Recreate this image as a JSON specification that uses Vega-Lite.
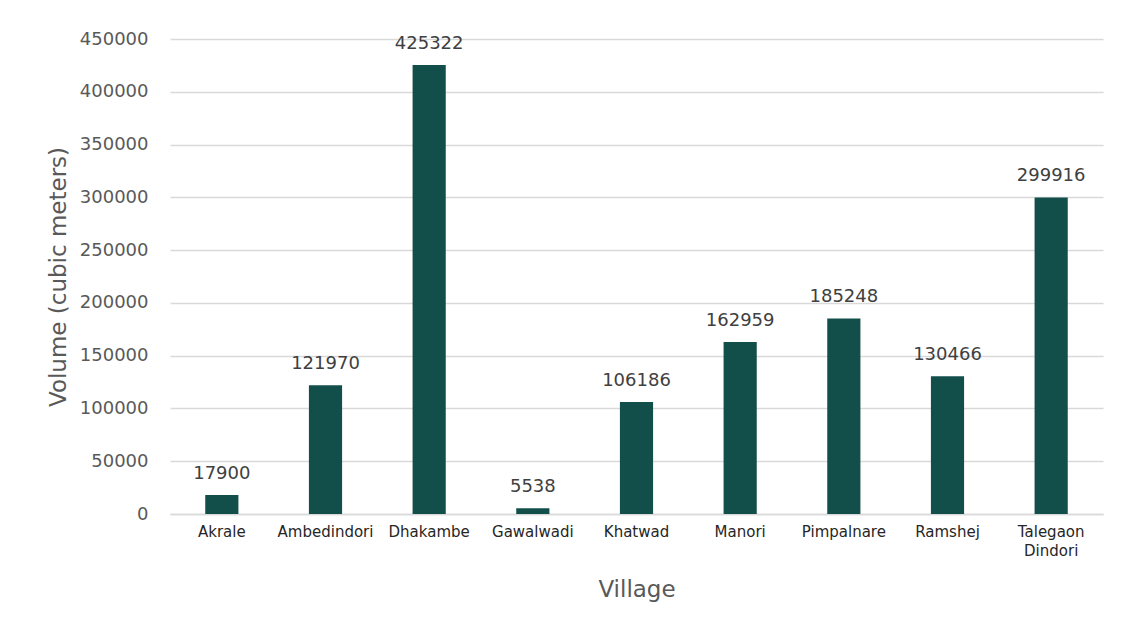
{
  "$schema": "https://vega.github.io/schema/vega-lite/v6.json",
  "width": 933,
  "height": 475,
  "autosize": {"type": "none"},
  "padding": {"left": 170, "top": 39, "right": 18, "bottom": 115},
  "background": "white",
  "data": {
    "values": [
      {"village": "Akrale", "volume": 17900},
      {"village": "Ambedindori", "volume": 121970},
      {"village": "Dhakambe", "volume": 425322},
      {"village": "Gawalwadi", "volume": 5538},
      {"village": "Khatwad", "volume": 106186},
      {"village": "Manori", "volume": 162959},
      {"village": "Pimpalnare", "volume": 185248},
      {"village": "Ramshej", "volume": 130466},
      {"village": "Talegaon Dindori", "volume": 299916}
    ]
  },
  "config": {
    "view": {"stroke": null},
    "font": "DejaVu Sans"
  },
  "encoding": {
    "x": {
      "field": "village",
      "type": "nominal",
      "sort": null,
      "scale": {"paddingInner": 0.68, "paddingOuter": 0.34},
      "axis": {
        "title": "Village",
        "titleFont": "DejaVu Sans",
        "titleFontSize": 23,
        "titleFontWeight": "normal",
        "titleColor": "#595959",
        "titlePadding": 20,
        "labelAngle": 0,
        "labelFontSize": 15,
        "labelColor": "#262626",
        "labelPadding": 10,
        "labelExpr": "datum.value == 'Talegaon Dindori' ? ['Talegaon', 'Dindori'] : datum.value",
        "labelLineHeight": 19,
        "ticks": false,
        "domainColor": "#d9d9d9",
        "domainWidth": 1.5,
        "grid": false
      }
    },
    "y": {
      "field": "volume",
      "type": "quantitative",
      "scale": {"domain": [0, 450000], "nice": false},
      "axis": {
        "title": "Volume (cubic meters)",
        "titleFont": "DejaVu Sans",
        "titleFontSize": 23,
        "titleFontWeight": "normal",
        "titleColor": "#595959",
        "titlePadding": 9,
        "values": [0, 50000, 100000, 150000, 200000, 250000, 300000, 350000, 400000, 450000],
        "format": "d",
        "labelFontSize": 18,
        "labelColor": "#595959",
        "labelPadding": 22,
        "ticks": false,
        "domain": false,
        "grid": true,
        "gridColor": "#d9d9d9",
        "gridWidth": 1.5
      }
    }
  },
  "layer": [
    {"mark": {"type": "bar", "color": "#134F4A"}},
    {
      "mark": {"type": "text", "baseline": "alphabetic", "dy": -16, "fontSize": 18, "color": "#404040"},
      "encoding": {"text": {"field": "volume", "type": "quantitative", "format": "d"}}
    }
  ]
}
